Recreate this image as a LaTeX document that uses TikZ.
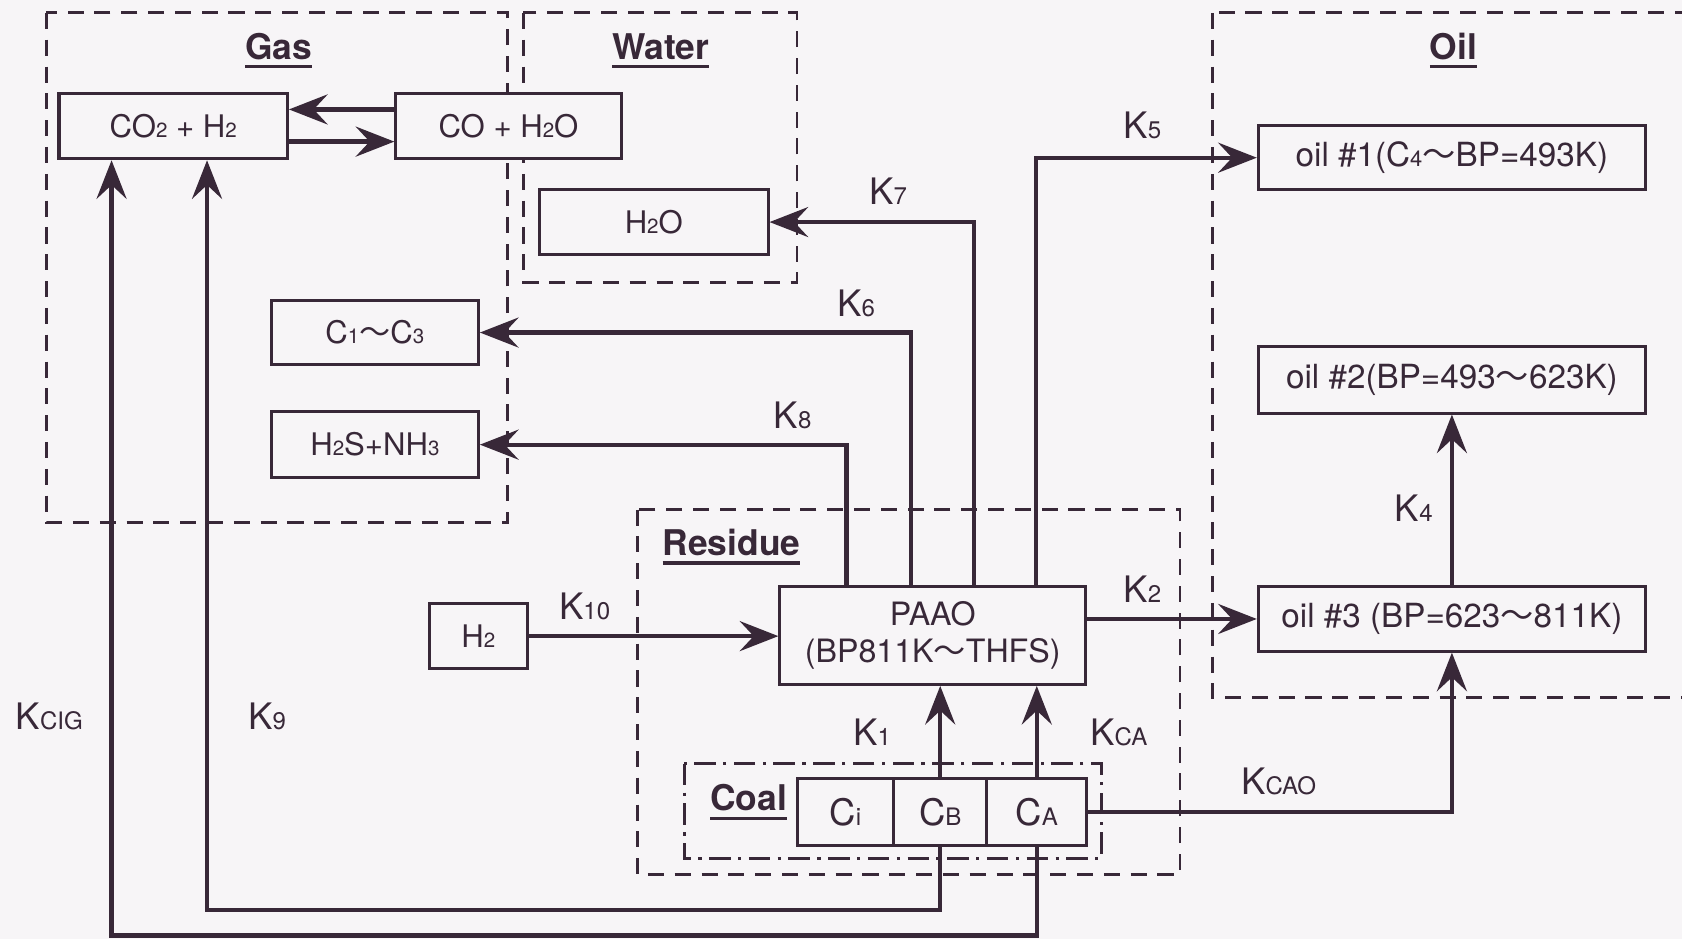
\documentclass[tikz,border=0pt]{standalone}
\usepackage{fontspec}
\usepackage{graphicx}
\setmainfont{TeX Gyre Heros}
\newfontfamily\cjk{Noto Sans CJK JP}
\usetikzlibrary{arrows.meta}
\definecolor{ink}{RGB}{56,40,56}
\definecolor{bg}{RGB}{247,245,247}
\newcommand\lo[1]{\scalebox{0.66}{#1}}
\newcommand\wv{{\cjk 〜}}
\newcommand\uline[1]{\setbox0=\hbox{#1}\rlap{\rule[-4.2pt]{\wd0}{1.5pt}}\box0}
\begin{document}
\begin{tikzpicture}[x=0.5pt,y=-0.5pt,
  font=\fontsize{14.5}{17}\selectfont, text=ink,
  box/.style={draw=ink, line width=1.4pt, fill=bg, inner sep=0pt, text=ink, align=center},
  arr/.style={draw=ink, line width=2pt, -{Stealth[length=18pt,width=14pt,inset=6.5pt]}},
  grp/.style={draw=ink, line width=1.3pt, dash pattern=on 7.5pt off 5pt},
  coalgrp/.style={draw=ink, line width=1.3pt, dash pattern=on 10pt off 3.5pt on 1.5pt off 3.5pt},
  klab/.style={font=\fontsize{17}{20}\selectfont, text=ink, inner sep=0pt},
  ttl/.style={font=\bfseries\fontsize{16.5}{20}\selectfont, text=ink, inner sep=0pt, anchor=base},
  oiltxt/.style={font=\fontsize{15.5}{18}\selectfont},
  big/.style={font=\fontsize{17}{20}\selectfont}]
\path[use as bounding box, fill=bg] (0,0) rectangle (1568,875);

% groups
\draw[grp] (43,12) rectangle (473,487);
\draw[grp] (488,12) rectangle (743,263);
\begin{scope}
  \clip (0,0) rectangle (1568,875);
  \draw[grp] (1130,12) rectangle (1640,650);
\end{scope}
\draw[grp] (594,475) rectangle (1100,815);
\draw[coalgrp] (638,712) rectangle (1027,800);

% titles
\node[ttl] (tgas) at (260,55) {\uline{Gas}};
\node[ttl] (twater) at (616,55) {\uline{Water}};
\node[ttl] (toil) at (1355,55) {\uline{Oil}};
\node[ttl] (tres) at (682,518) {\uline{Residue}};
\node[ttl] (tcoal) at (698,756) {\uline{Coal}};

% boxes
\node[box, minimum width=106.5pt, minimum height=30.5pt] (co2) at (161.5,117.5) {CO\lo{2} + H\lo{2}};
\node[box, minimum width=105pt, minimum height=30.5pt] (coh2o) at (474,117.5) {CO + H\lo{2}O};
\node[box, minimum width=106.5pt, minimum height=30pt] (h2o) at (609.5,207) {H\lo{2}O};
\node[box, minimum width=96.5pt, minimum height=30pt] (c13) at (349.5,310) {C\lo{1}\wv{}C\lo{3}};
\node[box, minimum width=96.5pt, minimum height=30.5pt] (h2s) at (349.5,414.5) {H\lo{2}S+NH\lo{3}};
\node[box, minimum width=46pt, minimum height=30pt] (h2) at (446,593) {H\lo{2}};
\node[box, oiltxt, minimum width=142.5pt, minimum height=45.5pt, font=\fontsize{15}{17}\selectfont] (paao) at (869.5,592.5) {PAAO\\(BP811K\wv{}THFS)};
\node[box, big, minimum width=45pt, minimum height=31pt] (ci) at (788,757) {C\lo{i}};
\node[box, big, minimum width=43.5pt, minimum height=31pt] (cb) at (876.5,757) {C\lo{B}};
\node[box, big, minimum width=46.5pt, minimum height=31pt] (ca) at (966.5,757) {C\lo{A}};
\node[box, oiltxt, minimum width=180.5pt, minimum height=30pt] (oil1) at (1353.5,147) {oil \#1(C\lo{4}\wv{}BP=493K)};
\node[box, oiltxt, minimum width=180.5pt, minimum height=31pt] (oil2) at (1353.5,354) {oil \#2(BP=493\wv{}623K)};
\node[box, oiltxt, minimum width=180.5pt, minimum height=30pt] (oil3) at (1353.5,577) {oil \#3 (BP=623\wv{}811K)};

\coordinate (k9c) at (193,848);
\coordinate (kcc) at (104,872);

% connectors
\draw[arr] ([yshift=7.75pt]coh2o.west) -- ([yshift=7.75pt]co2.east);
\draw[arr] ([yshift=-7.25pt]co2.east) -- ([yshift=-7.25pt]coh2o.west);
\draw[arr] ([xshift=19.25pt]paao.north) |- (h2o.east);
\draw[arr] ([xshift=-10.25pt]paao.north) |- (c13.east);
\draw[arr] ([xshift=-40.25pt]paao.north) |- (h2s.east);
\draw[arr] ([xshift=48.25pt]paao.north) |- (oil1.west);
\draw[arr] (paao.east |- oil3.west) -- (oil3.west);
\draw[arr] (oil3.north) -- (oil2.south);
\draw[arr] (h2.east) -- (h2.east -| paao.west);
\draw[arr] (cb.north) -- (cb.north |- paao.south);
\draw[arr] (ca.north) -- (ca.north |- paao.south);
\draw[arr] (ca.east) -| (oil3.south);
\draw[arr] (cb.south) |- (k9c) -- (k9c |- co2.south);
\draw[arr] (ca.south) |- (kcc) -- (kcc |- co2.south);

% labels
\node[klab] (lk5) at (1065,117) {K\lo{5}};
\node[klab] (lk7) at (828,178) {K\lo{7}};
\node[klab] (lk6) at (798,283) {K\lo{6}};
\node[klab] (lk8) at (739,387) {K\lo{8}};
\node[klab] (lk2) at (1065,549) {K\lo{2}};
\node[klab] (lk4) at (1318,474) {K\lo{4}};
\node[klab] (lk10) at (545,565) {K\lo{10}};
\node[klab] (lk1) at (813,683) {K\lo{1}};
\node[klab] (lkca) at (1043,683) {K\lo{CA}};
\node[klab] (lkcao) at (1192,728) {K\lo{CAO}};
\node[klab] (lk9) at (249,668) {K\lo{9}};
\node[klab] (lkcig) at (46,668) {K\lo{CIG}};
\end{tikzpicture}
\end{document}
